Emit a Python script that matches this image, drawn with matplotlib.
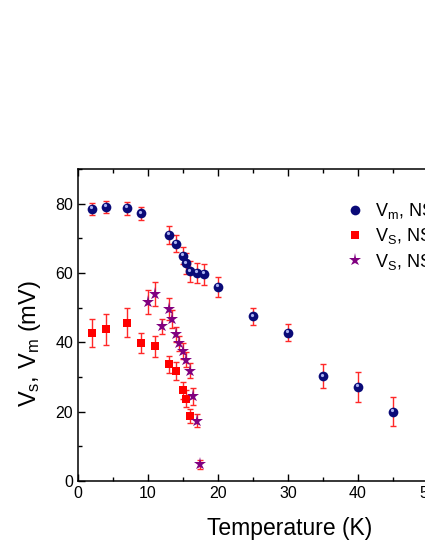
import numpy as np
import matplotlib
matplotlib.use("Agg")
import matplotlib.pyplot as plt
import matplotlib.transforms as mtransforms
from matplotlib.ticker import MultipleLocator

plt.rcParams['font.family'] = ['Liberation Sans', 'DejaVu Sans']
plt.rcParams['mathtext.fontset'] = 'custom'
plt.rcParams['mathtext.rm'] = 'Liberation Sans'
plt.rcParams['mathtext.it'] = 'Liberation Sans'

# V_m (navy spheres)
t_m = [2, 4, 7, 9, 13, 14, 15, 15.5, 16, 17, 18, 20, 25, 30, 35, 40, 45]
v_m = [78.5, 79, 78.7, 77.2, 71, 68.5, 65, 62.8, 60.5, 60, 59.7, 56, 47.5, 42.8, 30.2, 27.1, 20]
e_m = [1.8, 1.8, 1.8, 1.8, 2.5, 2.5, 2.5, 3, 3, 3, 3, 2.8, 2.5, 2.5, 3.5, 4.4, 4.1]

# V_s (red squares)
t_sq = [2, 4, 7, 9, 11, 13, 14, 15, 15.5, 16]
v_sq = [42.8, 43.8, 45.7, 39.8, 38.9, 33.7, 31.7, 26.2, 23.8, 18.7]
e_sq = [4, 4.5, 4.2, 3, 3, 2.5, 2.6, 2.5, 2.5, 2]

# V_s (purple stars)
t_st = [10, 11, 12, 13, 13.5, 14, 14.5, 15, 15.5, 16, 16.5, 17, 17.5]
v_st = [51.7, 54, 44.6, 49.6, 46.7, 42.3, 39.7, 37.5, 35, 31.8, 24.4, 17.4, 4.8]
e_st = [3.5, 3.4, 2.2, 3.2, 2.5, 2.2, 2.2, 2.2, 2.2, 2.2, 2.4, 1.9, 1.2]

fig = plt.figure(figsize=(4.25, 5.5), dpi=100)
ax = fig.add_axes([0.1835, 0.1255, 0.8235, 0.567])

err_kw = dict(fmt='none', ecolor='#ff2828', elinewidth=1.0, capsize=2.5, capthick=1.0, zorder=2)
ax.errorbar(t_m, v_m, yerr=e_m, **err_kw)
ax.errorbar(t_sq, v_sq, yerr=e_sq, **err_kw)
ax.errorbar(t_st, v_st, yerr=e_st, **err_kw)

ax.plot(t_sq, v_sq, 's', color='#ff0000', markersize=6.2, markeredgewidth=0, zorder=3,
        label=r'$\mathregular{V_S}$, NS')
ax.plot(t_st, v_st, '*', color='#800080', markersize=9.5, markeredgewidth=0, zorder=3,
        label=r'$\mathregular{V_S}$, NS')
ax.plot(t_m, v_m, 'o', color='#0a0a78', markersize=7, markeredgewidth=0, zorder=4,
        label=r'$\mathregular{V_m}$, NS')
# highlight to give the sphere look
hl = mtransforms.offset_copy(ax.transData, fig=fig, x=-1.0, y=1.3, units='points')
ax.plot(t_m, v_m, 'o', color='#a8b0f0', markersize=2.3, markeredgewidth=0, zorder=5,
        transform=hl)

ax.set_xlim(0, 50)
ax.set_ylim(0, 90)
ax.xaxis.set_major_locator(MultipleLocator(10))
ax.xaxis.set_minor_locator(MultipleLocator(5))
ax.yaxis.set_major_locator(MultipleLocator(20))
ax.yaxis.set_minor_locator(MultipleLocator(10))
ax.tick_params(which='both', direction='in', top=True, right=False, width=1.0, labelsize=11.5)
ax.tick_params(which='major', length=5)
ax.tick_params(which='minor', length=3)
for s in ax.spines.values():
    s.set_linewidth(1.1)

ax.set_xlabel('Temperature (K)', fontsize=16.5)
ax.xaxis.set_label_coords(0.604, -0.115)
ax.set_ylabel(r'$\mathregular{V_s}$, $\mathregular{V_m}$ (mV)', fontsize=17)
ax.yaxis.set_label_coords(-0.1, 0.442)

h, l = ax.get_legend_handles_labels()
order = [2, 0, 1]
leg = ax.legend([h[i] for i in order], [l[i] for i in order], loc='upper left',
                bbox_to_anchor=(0.714, 0.95), frameon=False, fontsize=13,
                handletextpad=0.5, labelspacing=0.3, handlelength=1.2)

fig.savefig('out.png', dpi=100)
